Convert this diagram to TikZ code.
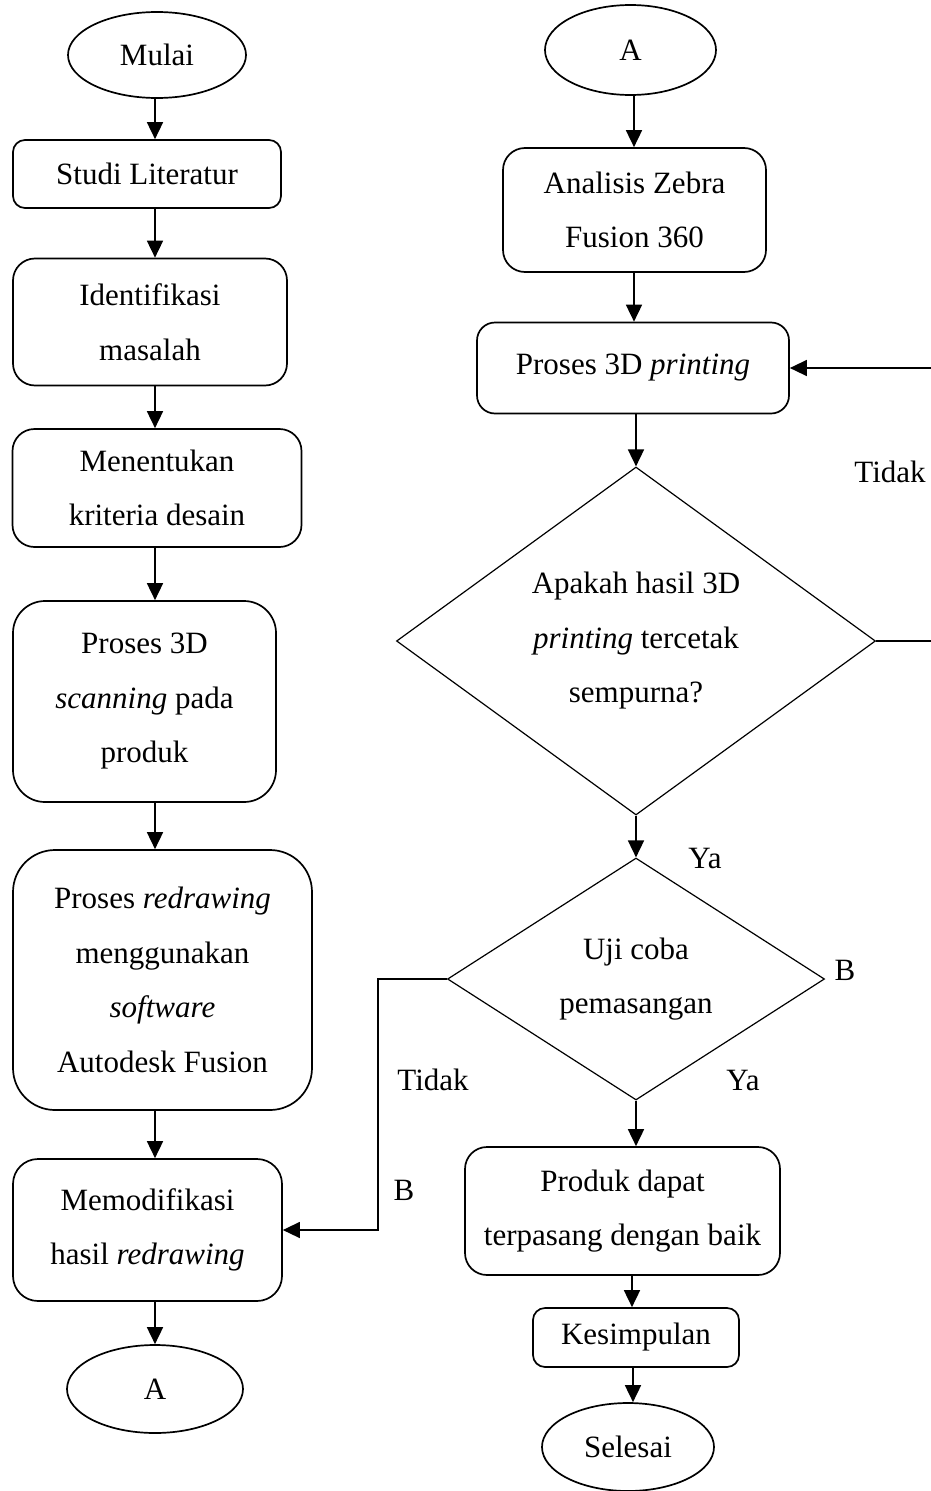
\documentclass[tikz,border=0pt]{standalone}
\usepackage{fontspec}
\setmainfont{Liberation Serif}
\usetikzlibrary{shapes.geometric, arrows.meta}

\begin{document}
\begin{tikzpicture}[x=1pt, y=-1pt, line width=1.7pt,
    every node/.style={font=\fontsize{31}{54.5}\selectfont},
    box/.style={draw, rounded corners=22pt, align=center, inner sep=0pt},
    term/.style={draw, ellipse, inner sep=0pt},
    cond/.style={draw, diamond, align=center, inner sep=0pt, line width=1.2pt},
    lbl/.style={inner sep=0pt},
    arr/.style={-{Triangle[length=17pt, width=16pt]}}]
    \useasboundingbox (0,0) rectangle (930,1491);
    % left column
    \node[term, minimum width=178pt, minimum height=86pt] (mulai) at (157,55) {Mulai};
    \node[box, rounded corners=12pt, minimum width=268pt, minimum height=68pt] (studi) at (147,174) {Studi Literatur};
    \node[box, minimum width=274pt, minimum height=127pt] (ident) at (150,322) {Identifikasi\\masalah};
    \node[box, minimum width=289pt, minimum height=118pt] (krit) at (157,488) {Menentukan\\kriteria desain};
    \node[box, rounded corners=32pt, minimum width=263pt, minimum height=201pt] (scan) at (144.5,701.5) {Proses 3D\\\textit{scanning} pada\\produk};
    \node[box, rounded corners=42pt, minimum width=299pt, minimum height=260pt] (redraw) at (162.5,980) {Proses \textit{redrawing}\\menggunakan\\\textit{software}\\Autodesk Fusion};
    \node[box, rounded corners=25pt, minimum width=269pt, minimum height=142pt] (modif) at (147.5,1230) {Memodifikasi\\hasil \textit{redrawing}};
    \node[term, minimum width=176pt, minimum height=88pt] (keA) at (155,1389) {A};
    % right column
    \node[term, minimum width=171pt, minimum height=90pt] (dariA) at (630.5,50) {A};
    \node[box, minimum width=263pt, minimum height=124pt] (zebra) at (634.5,210) {Analisis Zebra\\Fusion 360};
    \node[box, rounded corners=18pt, minimum width=312pt, minimum height=91pt] (cetak) at (633,368) {Proses 3D \textit{printing}};
    \node[cond, minimum width=479pt, minimum height=348pt] (cek) at (636,641) {Apakah hasil 3D\\\textit{printing} tercetak\\sempurna?};
    \node[cond, minimum width=377pt, minimum height=242pt] (uji) at (636,979) {Uji coba\\pemasangan};
    \node[box, minimum width=315pt, minimum height=128pt] (produk) at (622.5,1211) {Produk dapat\\terpasang dengan baik};
    \node[box, rounded corners=12pt, minimum width=206pt, minimum height=59pt] (simpul) at (636,1337.5) {Kesimpulan};
    \node[term, minimum width=172pt, minimum height=88pt] (selesai) at (628,1447) {Selesai};
    % labels
    \node[lbl] (tidak1) at (890,472) {Tidak};
    \node[lbl] (ya1) at (705,858) {Ya};
    \node[lbl] (b1) at (845,970) {B};
    \node[lbl] (tidak2) at (433,1080) {Tidak};
    \node[lbl] (ya2) at (743,1080) {Ya};
    \node[lbl] (b2) at (404,1190) {B};
    % arrows
    \draw[arr] (mulai.south -| 155,0) -- (studi.north -| 155,0);
    \draw[arr] (studi.south -| 155,0) -- (ident.north -| 155,0);
    \draw[arr] (ident.south -| 155,0) -- (krit.north -| 155,0);
    \draw[arr] (krit.south -| 155,0) -- (scan.north -| 155,0);
    \draw[arr] (scan.south -| 155,0) -- (redraw.north -| 155,0);
    \draw[arr] (redraw.south -| 155,0) -- (modif.north -| 155,0);
    \draw[arr] (modif.south -| 155,0) -- (keA.north);
    \draw[arr] (dariA.south -| 634,0) -- (zebra.north -| 634,0);
    \draw[arr] (zebra.south -| 634,0) -- (cetak.north -| 634,0);
    \draw[arr] (cetak.south -| cek.north) -- (cek.north);
    \draw[arr] (cek.south) -- (uji.north);
    \draw[arr] (uji.south) -- (produk.north -| uji.south);
    \draw[arr] (produk.south -| 632,0) -- (simpul.north -| 632,0);
    \draw[arr] (simpul.south -| 633,0) -- (selesai.north -| 633,0);
    \draw[arr, line width=1.4pt] (cek.east) -- ++(56,0) |- (cetak.east);
    \draw[arr, line width=1.4pt] (uji.west) -- ++(-69,0) |- (modif.east);
\end{tikzpicture}
\end{document}
